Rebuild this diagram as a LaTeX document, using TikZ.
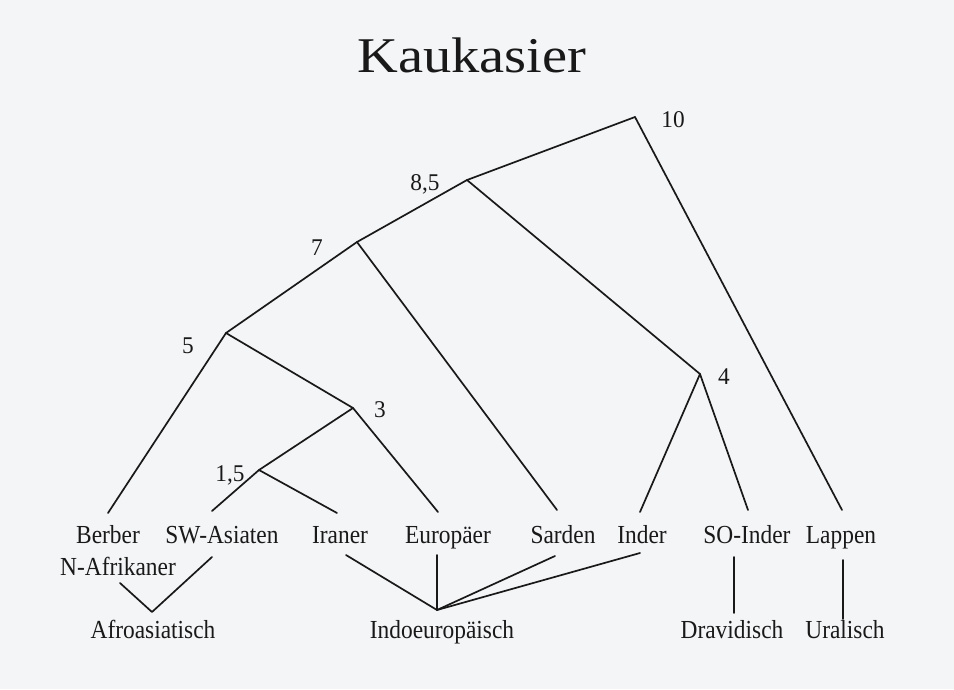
\documentclass[tikz,border=0pt]{standalone}
\usepackage{fontspec}
\setmainfont{Liberation Serif}
\usepackage{graphicx}
\definecolor{bg}{RGB}{244,245,247}
\definecolor{ink}{RGB}{25,25,25}
\tikzset{
  lbl/.style={anchor=base, inner sep=0pt, text=ink, font=\fontsize{26}{30}\selectfont},
  num/.style={anchor=base, inner sep=0pt, text=ink, font=\fontsize{24}{28}\selectfont},
  edge/.style={draw=ink, line width=1.7pt, line cap=round, line join=round},
}
\newcommand{\hsq}[1]{\scalebox{0.9}[1]{#1}}
\newcommand{\nsq}[1]{\scalebox{0.97}[1]{#1}}
\begin{document}
\begin{tikzpicture}[x=1pt,y=-1pt]
\fill[bg] (0,0) rectangle (954,689);
\useasboundingbox (0,0) rectangle (954,689);

% title
\node[anchor=base, inner sep=0pt, text=ink, font=\fontsize{50}{56}\selectfont] (title) at (472,72) {\scalebox{1.13}[1]{Kaukasier}};

% tree nodes
\coordinate (n10) at (635,117);
\coordinate (n85) at (467,180);
\coordinate (n7)  at (357,242);
\coordinate (n5)  at (226,333);
\coordinate (n3)  at (353,408);
\coordinate (n15) at (259,470);
\coordinate (n4)  at (700,374);

% numbers
\node[num] (l10) at (673,127) {\nsq{10}};
\node[num] (l85) at (425,190) {\nsq{8,5}};
\node[num] (l7)  at (317,255) {\nsq{7}};
\node[num] (l5)  at (188,353) {\nsq{5}};
\node[num] (l3)  at (380,417) {\nsq{3}};
\node[num] (l15) at (230,481) {\nsq{1,5}};
\node[num] (l4)  at (724,384) {\nsq{4}};

% leaf labels
\node[lbl] (berber) at (108,543) {\hsq{Berber}};
\node[lbl] (swa)    at (222,543) {\hsq{SW-Asiaten}};
\node[lbl] (iraner) at (340,543) {\hsq{Iraner}};
\node[lbl] (europ)  at (448,543) {\hsq{Europäer}};
\node[lbl] (sarden) at (563,543) {\hsq{Sarden}};
\node[lbl] (inder)  at (642,543) {\hsq{Inder}};
\node[lbl] (soinder) at (747,543) {\hsq{SO-Inder}};
\node[lbl] (lappen) at (841,543) {\hsq{Lappen}};
\node[lbl] (nafr)   at (118,575) {\hsq{N-Afrikaner}};

% family labels
\node[lbl] (afro)  at (153,638) {\hsq{Afroasiatisch}};
\node[lbl] (indoeu) at (442,638) {\hsq{Indoeuropäisch}};
\node[lbl] (drav)  at (732,638) {\hsq{Dravidisch}};
\node[lbl] (ural)  at (845,638) {\hsq{Uralisch}};

% leaf line ends (top)
\coordinate (tBerber) at (108,513);
\coordinate (tSwa)    at (212,511);
\coordinate (tIraner) at (337,513);
\coordinate (tEurop)  at (438,512);
\coordinate (tSarden) at (557,510);
\coordinate (tInder)  at (640,512);
\coordinate (tSoinder) at (748,510);
\coordinate (tLappen) at (842,510);

% tree edges
\draw[edge] (n10) -- (n85);
\draw[edge] (n10) -- (tLappen);
\draw[edge] (n85) -- (n7);
\draw[edge] (n85) -- (n4);
\draw[edge] (n7) -- (n5);
\draw[edge] (n7) -- (tSarden);
\draw[edge] (n5) -- (tBerber);
\draw[edge] (n5) -- (n3);
\draw[edge] (n3) -- (n15);
\draw[edge] (n3) -- (tEurop);
\draw[edge] (n15) -- (tSwa);
\draw[edge] (n15) -- (tIraner);
\draw[edge] (n4) -- (tInder);
\draw[edge] (n4) -- (tSoinder);

% lower connectors
\coordinate (aApex) at (152,612);
\coordinate (iApex) at (437,610);
\coordinate (bNafr) at (120,583);
\coordinate (bSwa)  at (212,557);
\coordinate (bIraner) at (346,555);
\coordinate (bEurop) at (437,555);
\coordinate (bSarden) at (555,556);
\coordinate (bInder) at (640,553);
\coordinate (bSoinder) at (734,557);
\coordinate (eSoinder) at (734,613);
\coordinate (bLappen) at (843,560);
\coordinate (eLappen) at (843,619);

\draw[edge] (bNafr) -- (aApex) -- (bSwa);
\draw[edge] (bIraner) -- (iApex);
\draw[edge] (bEurop) -- (iApex);
\draw[edge] (bSarden) -- (iApex);
\draw[edge] (bInder) -- (iApex);
\draw[edge] (bSoinder) -- (eSoinder);
\draw[edge] (bLappen) -- (eLappen);
\end{tikzpicture}
\end{document}
